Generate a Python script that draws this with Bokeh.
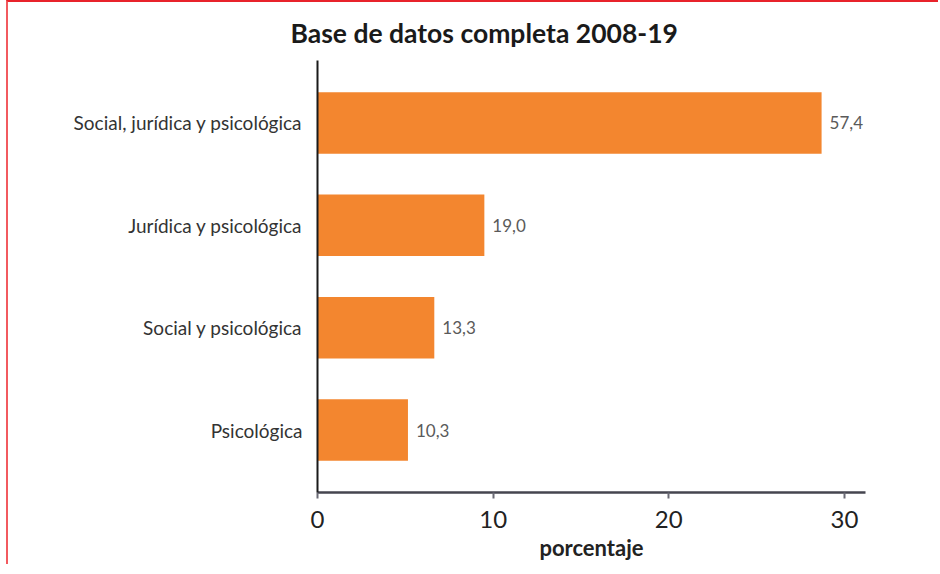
from bokeh.plotting import figure
from bokeh.models import FactorRange, Range1d, FixedTicker, ColumnDataSource
from bokeh.core.properties import value
from bokeh.embed import file_html
from bokeh.resources import INLINE

categories = ["Social, jurídica y psicológica", "Jurídica y psicológica",
              "Social y psicológica", "Psicológica"]
values = [57.4, 19.0, 13.3, 10.3]
value_labels = ["57,4", "19,0", "13,3", "10,3"]
tick_values = [0, 20, 40, 60]
tick_labels = ["0", "10", "20", "30"]
title_text = "Base de datos completa 2008-19"

FONT = "Lato"

src = ColumnDataSource(dict(cat=categories, val=values, lab=value_labels))

p = figure(width=932, height=564,
           y_range=FactorRange(factors=categories[::-1], range_padding=0.055),
           x_range=Range1d(0, 62.4),
           output_backend="svg", toolbar_location=None,
           min_border_left=309, min_border_right=75,
           min_border_top=48, min_border_bottom=74)
p.styles = {"border-left": "2px solid #f25a5f", "border-top": "2px solid #e8232b",
            "margin-left": "6px"}

p.title.text = title_text
p.title.align = "left"
p.title.offset = -27
p.title.text_font = FONT
p.title.text_font_size = "26.5px"
p.title.text_font_style = "bold"
p.title.text_color = "#1a1a1a"
p.title.standoff = 24

p.hbar(y="cat", left=0, right="val", height=0.6, source=src,
       fill_color="#F3862F", line_color=None)
p.text(x="val", y="cat", text="lab", source=src, x_offset=8,
       text_baseline="middle", text_align="left",
       text_font=value(FONT), text_font_size="17px", text_color="#5a5a5a")

p.xgrid.visible = False
p.ygrid.visible = False
p.outline_line_color = None
p.background_fill_color = "white"
p.border_fill_color = "white"

xa = p.xaxis[0]
xa.ticker = FixedTicker(ticks=tick_values)
xa.major_label_overrides = {t: l for t, l in zip(tick_values, tick_labels)}
xa.minor_tick_line_color = None
xa.major_tick_out = 6
xa.major_tick_in = 0
xa.major_tick_line_color = "#6a6a75"
xa.major_tick_line_width = 2
xa.axis_line_color = "#45454f"
xa.axis_line_width = 2.5
xa.major_label_text_font = FONT
xa.major_label_text_font_size = "24px"
xa.major_label_text_color = "#222222"
xa.major_label_standoff = 12
xa.axis_label = "porcentaje"
xa.axis_label_text_font = FONT
xa.axis_label_text_font_size = "22px"
xa.axis_label_text_font_style = "bold"
xa.axis_label_text_color = "#222222"
xa.axis_label_standoff = 3

ya = p.yaxis[0]
ya.major_tick_line_color = None
ya.minor_tick_line_color = None
ya.axis_line_color = "#1a1a1a"
ya.axis_line_width = 2
ya.major_label_text_font = FONT
ya.major_label_text_font_size = "19px"
ya.major_label_text_color = "#333333"
ya.major_label_standoff = 9

open("out.html", "w").write(file_html(p, INLINE))
